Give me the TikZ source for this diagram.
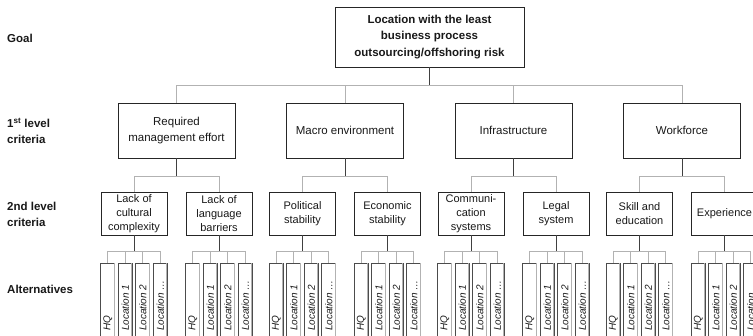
\documentclass[tikz,border=0pt]{standalone}
\usepackage{fontspec}
\setmainfont{Liberation Sans}
\usetikzlibrary{positioning}

\begin{document}
\begin{tikzpicture}[x=1pt, y=-1pt,
    lvlbox/.style={draw=black!85, line width=0.9pt, fill=white, align=center, inner sep=0pt, text=black!90},
    goalbox/.style={lvlbox, minimum width=189pt, minimum height=60pt, font=\bfseries\fontsize{11.5}{16.5}\selectfont},
    firstbox/.style={lvlbox, minimum width=117pt, minimum height=55pt, font=\fontsize{11.5}{16}\selectfont},
    secondbox/.style={lvlbox, minimum width=66pt, minimum height=43pt, font=\fontsize{11}{14}\selectfont},
    altbox/.style={draw=black!70, line width=0.8pt, minimum width=14pt, minimum height=82pt, inner sep=0pt, anchor=north},
    alttext/.style={rotate=90, anchor=west, inner sep=0pt, text=black!90, font=\itshape\fontsize{10}{12}\selectfont},
    levellabel/.style={anchor=west, align=left, inner sep=0pt, text=black!90, font=\bfseries\fontsize{11.5}{16}\selectfont},
    stem/.style={black!75, line width=0.8pt},
    branch/.style={black!30, line width=0.8pt}]
    % Invisible bounding box, the picture is cut at the right and bottom
    \path[use as bounding box] (0,0) rectangle (753,335);
    \clip (0,0) rectangle (753,335);

    % Level labels
    \node[levellabel] (lbl-goal) at (7,38) {Goal};
    \node[levellabel] (lbl-first) at (7,131) {1\textsuperscript{st} level\\criteria};
    \node[levellabel] (lbl-second) at (7,214.5) {2nd level\\criteria};
    \node[levellabel] (lbl-alt) at (7,289) {Alternatives};

    % Goal
    \node[goalbox] (goal) at (429.5,37) {Location with the least\\business process\\outsourcing/offshoring risk};
    \coordinate (goal-bar) at ([yshift=-18pt]goal.south);

    % 1st level criteria
    \foreach \name [count=\i] in {{Required\\management effort}, Macro environment, Infrastructure, Workforce} {
        \node[firstbox] (c\i) at ({176.5+168.5*(\i-1)},130.5) {\name};
        \draw[branch] (goal-bar -| c\i.north) -- (c\i.north);
    }
    \draw[branch] (goal-bar -| c1.north) -- (goal-bar -| c4.north);
    \draw[stem] (goal.south) -- (goal-bar);

    % 2nd level criteria
    \foreach \i/\ltext/\rtext in {1/{Lack of\\cultural\\complexity}/{Lack of\\language\\barriers},
                                  2/{Political\\stability}/{Economic\\stability},
                                  3/{Communi-\\cation\\systems}/{Legal\\system},
                                  4/{Skill and\\education}/Experience} {
        \coordinate (c\i-bar) at ([yshift=-18pt]c\i.south);
        \node[secondbox] (s\i-1) at ({176.5+168.5*(\i-1)-42.5},213.5) {\ltext};
        \node[secondbox] (s\i-2) at ({176.5+168.5*(\i-1)+42.5},213.5) {\rtext};
        \draw[branch] (c\i-bar -| s\i-1.north) -- (s\i-1.north);
        \draw[branch] (c\i-bar -| s\i-2.north) -- (s\i-2.north);
        \draw[branch] (c\i-bar -| s\i-1.north) -- (c\i-bar -| s\i-2.north);
        \draw[stem] (c\i.south) -- (c\i-bar);
    }

    % Alternatives
    \foreach \i in {1,...,4} {
        \foreach \j in {1,2} {
            \pgfmathsetmacro{\sx}{176.5+168.5*(\i-1)+85*(\j-1)-42.5}
            \coordinate (s\i-\j-bar) at ([yshift=-15.5pt]s\i-\j.south);
            \foreach \k/\alt in {1/HQ, 2/Location 1, 3/Location 2, 4/Location \dots} {
                \pgfmathsetmacro{\ax}{\sx+17.5*(\k-1)-26.25}
                \node[altbox] (a\i-\j-\k) at (\ax,263) {};
                \draw[branch] ([xshift=-1.2pt]a\i-\j-\k.north east) -- ([xshift=-1.2pt]a\i-\j-\k.south east);
                \node[alttext] (t\i-\j-\k) at (\ax,331) {\alt};
                \draw[branch] (s\i-\j-bar -| a\i-\j-\k.north) -- (a\i-\j-\k.north);
            }
            \draw[branch] (s\i-\j-bar -| a\i-\j-1.north) -- (s\i-\j-bar -| a\i-\j-4.north);
            \draw[stem] (s\i-\j.south) -- (s\i-\j-bar);
        }
    }
\end{tikzpicture}
\end{document}
